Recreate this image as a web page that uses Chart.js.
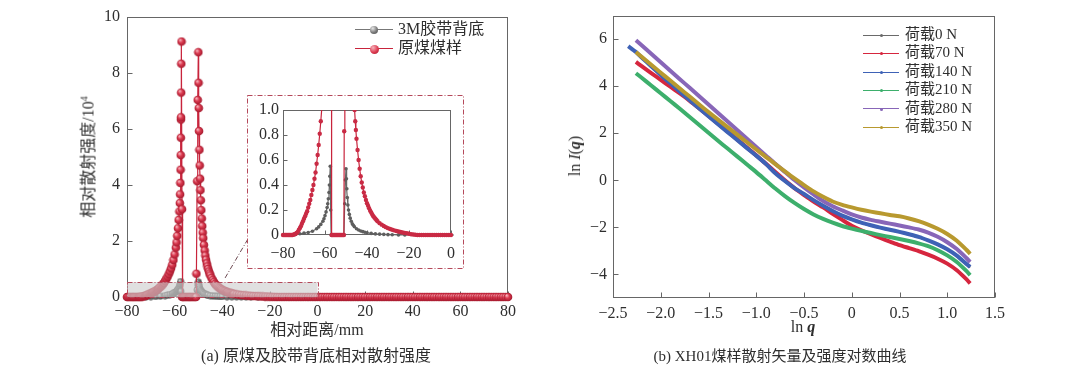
<!DOCTYPE html>
<html><head><meta charset="utf-8">
<script src="https://cdn.jsdelivr.net/npm/chart.js@4.4.1/dist/chart.umd.min.js"></script>
<style>
html,body{margin:0;padding:0;background:#fff}
body{width:1080px;height:375px;position:relative;overflow:hidden;font-family:'Liberation Serif','Noto Sans CJK SC',serif;color:#2e2e2e}
canvas{position:absolute}
.t{position:absolute;white-space:nowrap;transform:translate(-50%,-50%);line-height:1}
.ry{transform:translate(-50%,-50%) rotate(-90deg)}
.lgline{position:absolute;height:0}
.lgdot{position:absolute;border-radius:50%}
.lgtxt{position:absolute;white-space:nowrap;line-height:1}
</style></head>
<body>
<canvas id="cA" width="540" height="330" style="left:0;top:0"></canvas>
<canvas id="cB" width="217" height="174" style="left:247px;top:95px;z-index:2"></canvas>
<canvas id="cC" width="540" height="330" style="left:540px;top:0"></canvas>

<div class="t ry" style="left:88px;top:157px;font-size:16px">相对散射强度/10<sup style="font-size:10px;vertical-align:6px">4</sup></div>
<div class="t" style="left:317px;top:330px;font-size:16px">相对距离/mm</div>
<div class="t" style="left:316px;top:356px;font-size:16px">(a) 原煤及胶带背底相对散射强度</div>
<div class="t ry" style="left:575px;top:156px;font-size:16px">ln <i>I</i>(<b><i>q</i></b>)</div>
<div class="t" style="left:803px;top:327px;font-size:16px">ln <b><i>q</i></b></div>
<div class="t" style="left:780px;top:356px;font-size:15px">(b) XH01煤样散射矢量及强度对数曲线</div>
<div id="legA"></div><div id="legC"></div>

<script>
// ---------------- data: panel (a) ----------------
const seriesA = ['3M胶带背底', '原煤煤样'];
// 原煤煤样: [相对距离 mm, 相对散射强度 /10^4]
const coalPts = [
[-80,0],[-79.5,0],[-79,0],[-78.5,0],[-78,0],[-77.5,0],[-77,0],[-76.5,0],[-76,0],[-75.5,0],
[-75,0.003],[-74.5,0.006],[-74,0.01],[-73.5,0.016],[-73,0.025],[-72.5,0.04],[-72,0.055],[-71.5,0.07],
[-71,0.09],[-70.5,0.11],[-70,0.13],[-69.5,0.15],[-69,0.17],[-68.5,0.19],[-68,0.22],[-67.5,0.25],
[-67,0.28],[-66.5,0.32],[-66,0.36],[-65.5,0.40],[-65,0.45],[-64.5,0.50],[-64,0.57],[-63.5,0.64],
[-63,0.72],[-62.5,0.81],[-62,0.91],[-61.5,1.02],[-61,1.15],[-60.5,1.32],[-60,1.52],[-59.5,1.76],
[-59.2,1.95],[-58.9,2.18],[-58.6,2.45],[-58.3,2.75],[-58,3.05],[-57.8,3.35],[-57.7,3.66],[-57.6,4.07],
[-57.5,4.54],[-57.45,5.06],[-57.4,5.68],[-57.35,6.33],[-57.3,6.41],[-57.25,7.29],[-57.2,8.32],[-57.1,9.11],
[-56.9,3.13],[-56.8,0],[-56.5,0],[-56,0],[-55.5,0],[-55,0],[-54.5,0],[-54,0],[-53.5,0],[-53,0],[-52.5,0],
[-52,0],[-51.5,0],[-51,0],[-50.85,0.83],[-50.55,4.13],[-50.3,7.03],[-50.05,8.73],[-49.95,7.64],[-49.85,6.74],
[-49.75,5.92],[-49.6,5.25],[-49.45,4.69],[-49.3,4.22],[-49.15,3.81],[-49,3.45],[-48.8,3.10],[-48.6,2.80],
[-48.4,2.53],[-48.2,2.30],[-48,2.10],[-47.7,1.86],[-47.4,1.66],[-47.1,1.48],[-46.8,1.33],[-46.5,1.20],
[-46.2,1.09],[-45.9,1.00],[-45.6,0.91],[-45.3,0.84],[-45,0.77],[-44.5,0.68],[-44,0.60],[-43.5,0.53],
[-43,0.47],[-42.5,0.42],[-42,0.38],[-41.5,0.34],[-41,0.31],[-40.5,0.28],[-40,0.255],[-39.5,0.235],
[-39,0.215],[-38.5,0.195],[-38,0.18],[-37.5,0.165],[-37,0.15],[-36.5,0.14],[-36,0.13],[-35.5,0.12],
[-35,0.11],[-34,0.095],[-33,0.083],[-32,0.072],[-31,0.063],[-30,0.055],[-29,0.048],[-28,0.042],
[-27,0.037],[-26,0.032],[-25,0.028],[-24,0.024],[-23,0.02],[-22,0.017],[-21,0.014],[-20,0.01],
[-19,0.006],[-18,0.004],[-17,0.002],[-16,0],[-15,0],[-14,0],[-13,0],[-12,0],[-11,0],[-10,0],[-9,0],[-8,0],
[-7,0],[-6,0],[-5,0],[-4,0],[-3,0],[-2,0],[-1,0],[0,0],[1,0],[2,0],[3,0],[4,0],[5,0],[6,0],[7,0],[8,0],
[9,0],[10,0],[11,0],[12,0],[13,0],[14,0],[15,0],[16,0],[17,0],[18,0],[19,0],[20,0],[21,0],[22,0],[23,0],
[24,0],[25,0],[26,0],[27,0],[28,0],[29,0],[30,0],[31,0],[32,0],[33,0],[34,0],[35,0],[36,0],[37,0],[38,0],
[39,0],[40,0],[41,0],[42,0],[43,0],[44,0],[45,0],[46,0],[47,0],[48,0],[49,0],[50,0],[51,0],[52,0],[53,0],
[54,0],[55,0],[56,0],[57,0],[58,0],[59,0],[60,0],[61,0],[62,0],[63,0],[64,0],[65,0],[66,0],[67,0],[68,0],
[69,0],[70,0],[71,0],[72,0],[73,0],[74,0],[75,0],[76,0],[77,0],[78,0],[79,0],[80,0]
];
// 3M胶带背底
const tapePts = [
[-80,0],[-77,0],[-74,0.005],[-72,0.01],[-70,0.015],[-68,0.02],[-66,0.03],[-64,0.05],[-63,0.065],
[-62,0.085],[-61,0.11],[-60.5,0.13],[-60,0.155],[-59.5,0.185],[-59,0.22],[-58.7,0.25],[-58.4,0.29],
[-58.1,0.34],[-57.9,0.40],[-57.7,0.47],[-57.5,0.55],[-57.3,0.20],[-57.1,0],[-56,0],[-55,0],[-54,0],
[-53,0],[-52,0],[-51,0],[-50.6,0.25],[-50.3,0.44],[-50,0.53],[-49.8,0.45],[-49.6,0.37],[-49.4,0.30],
[-49.1,0.24],[-48.8,0.20],[-48.4,0.165],[-48,0.135],[-47.5,0.11],[-47,0.09],[-46.5,0.078],[-46,0.066],
[-45,0.05],[-44,0.04],[-43,0.032],[-42,0.027],[-41,0.022],[-40,0.018],[-38,0.013],[-36,0.009],
[-34,0.007],[-32,0.005],[-30,0.003],[-28,0.002],[-25,0.001],[-22,0],[-16,0],[-10,0],[-4,0],[2,0],
[8,0],[14,0],[20,0],[26,0],[32,0],[38,0],[44,0],[50,0],[56,0],[62,0],[68,0],[74,0],[80,0]
];
// zoomed box in panel (a): x from..to, height
const zoomBox = {x0: -80, x1: 0, h: 0.53};

// ---------------- data: panel (b) ----------------
const seriesB = ['荷载0 N','荷载70 N','荷载140 N','荷载210 N','荷载280 N','荷载350 N'];
const lnQ = [-2.34,-2.26,-2.2,-2.1,-2.0,-1.9,-1.8,-1.7,-1.6,-1.5,-1.4,-1.3,-1.2,-1.1,-1.0,-0.9,-0.8,-0.7,-0.6,-0.5,
             -0.4,-0.3,-0.2,-0.1,0,0.1,0.2,0.3,0.4,0.5,0.6,0.7,0.8,0.9,1.0,1.1,1.2,1.24];
const load0   = [null,5.42,5.2,4.83,4.46,4.10,3.74,3.39,3.04,2.70,2.36,2.03,1.70,1.36,1.03,0.68,0.29,-0.05,-0.35,-0.60,
                 -0.86,-1.10,-1.32,-1.52,-1.68,-1.82,-1.93,-2.03,-2.12,-2.21,-2.31,-2.42,-2.57,-2.74,-2.95,-3.22,-3.57,-3.70];
const load70  = [null,5.03,4.85,4.56,4.27,3.98,3.69,3.39,3.07,2.74,2.41,2.08,1.74,1.40,1.06,0.71,0.35,0.0,-0.33,-0.62,
                 -0.90,-1.15,-1.42,-1.68,-1.93,-2.12,-2.29,-2.45,-2.60,-2.75,-2.88,-3.01,-3.16,-3.33,-3.54,-3.82,-4.20,-4.38];
const load140 = [5.70,5.45,5.22,4.85,4.48,4.12,3.76,3.41,3.06,2.72,2.38,2.05,1.72,1.38,1.05,0.70,0.30,-0.03,-0.33,-0.58,
                 -0.84,-1.08,-1.30,-1.50,-1.66,-1.80,-1.91,-2.01,-2.10,-2.19,-2.29,-2.40,-2.55,-2.72,-2.93,-3.20,-3.55,-3.68];
const load210 = [null,4.55,4.36,4.03,3.70,3.37,3.04,2.70,2.36,2.02,1.68,1.35,1.02,0.68,0.35,0.0,-0.35,-0.67,-0.96,-1.22,
                 -1.45,-1.64,-1.80,-1.94,-2.05,-2.15,-2.24,-2.33,-2.41,-2.49,-2.58,-2.68,-2.80,-2.97,-3.19,-3.47,-3.85,-4.03];
const load280 = [null,5.95,5.74,5.38,5.02,4.66,4.30,3.94,3.58,3.22,2.86,2.50,2.14,1.78,1.42,1.06,0.70,0.36,0.02,-0.30,
                 -0.60,-0.88,-1.10,-1.28,-1.45,-1.58,-1.68,-1.76,-1.84,-1.92,-2.00,-2.09,-2.22,-2.40,-2.63,-2.92,-3.30,-3.47];
const load350 = [null,5.45,5.25,4.91,4.57,4.24,3.90,3.57,3.23,2.90,2.58,2.26,1.94,1.63,1.31,1.00,0.69,0.38,0.08,-0.20,
                 -0.47,-0.70,-0.90,-1.04,-1.15,-1.25,-1.33,-1.40,-1.47,-1.53,-1.62,-1.73,-1.88,-2.06,-2.28,-2.57,-2.95,-3.12];
const lnITicks = [-4,-2,0,2,4,6];

// ---------------- styling ----------------
const colorsB = ['#6a6a6a','#d6263e','#3e62b6','#3daf6c','#8866b8','#b8992f'];
const FONT = "'Liberation Serif','Noto Sans CJK SC',serif";
const TXT = '#2e2e2e';
const AX = '#666';
Chart.defaults.font.family = FONT;
Chart.defaults.color = TXT;
const fmtMinus = s => String(s).replace('-', '\u2212');

function sphere(r, c0, c1, c2) {
  const s = Math.ceil(r * 2) + 1;
  const cv = document.createElement('canvas'); cv.width = cv.height = s;
  const g = cv.getContext('2d'); const c = s / 2;
  const gr = g.createRadialGradient(c - r * 0.35, c - r * 0.4, r * 0.1, c, c, r);
  gr.addColorStop(0, c0); gr.addColorStop(0.45, c1); gr.addColorStop(1, c2);
  g.fillStyle = gr; g.beginPath(); g.arc(c, c, r, 0, Math.PI * 2); g.fill();
  return cv;
}
const redBall = sphere(4.3, '#f6b3bb', '#dc3a50', '#a3192d');
const grayBall = sphere(3.4, '#dedede', '#7c7c7c', '#4a4a4a');

function frameTicks(len) {
  return {
    id: 'frameTicks',
    beforeDatasetsDraw(chart) {
      const {ctx, chartArea: a, scales: {x, y}} = chart;
      ctx.save();
      ctx.strokeStyle = AX; ctx.lineWidth = 1;
      const l = Math.round(a.left) + 0.5, t = Math.round(a.top) + 0.5;
      const r = Math.round(a.right) - 0.5, b = Math.round(a.bottom) - 0.5;
      ctx.strokeRect(l, t, r - l, b - t);
      ctx.beginPath();
      x.ticks.forEach(tk => { const px = Math.round(x.getPixelForValue(tk.value)) + 0.5; ctx.moveTo(px, b); ctx.lineTo(px, b - len); });
      y.ticks.forEach(tk => { const py = Math.round(y.getPixelForValue(tk.value)) + 0.5; ctx.moveTo(l, py); ctx.lineTo(l + len, py); });
      ctx.stroke();
      ctx.restore();
    }
  };
}
const toXY = pts => pts.map(p => ({x: p[0], y: p[1]}));
const tickFont = {family: "'Liberation Serif',serif", size: 16};

// ---------------- chart (a) ----------------
const overlayA = {
  id: 'overlayA',
  afterDatasetsDraw(chart) {
    const {ctx, scales: {x, y}} = chart;
    const x0 = x.getPixelForValue(zoomBox.x0), x1 = x.getPixelForValue(zoomBox.x1);
    const y0 = y.getPixelForValue(0), y1 = y.getPixelForValue(zoomBox.h);
    ctx.save();
    ctx.fillStyle = 'rgba(205,205,205,0.62)';
    ctx.fillRect(x0, y1, x1 - x0, y0 - y1);
    ctx.setLineDash([5, 2, 1, 2]);
    ctx.strokeStyle = '#b5485a'; ctx.lineWidth = 1;
    ctx.strokeRect(Math.round(x0) + 0.5, Math.round(y1) + 0.5, Math.round(x1 - x0), Math.round(y0 - y1));
    ctx.strokeStyle = '#6d4a52';
    ctx.beginPath();
    ctx.moveTo(x.getPixelForValue(-38.8), y.getPixelForValue(0.68));
    ctx.lineTo(x.getPixelForValue(-29), y.getPixelForValue(2.1));
    ctx.stroke();
    ctx.restore();
  }
};

new Chart(document.getElementById('cA'), {
  type: 'scatter',
  data: { datasets: [
    { label: seriesA[1], data: toXY(coalPts), showLine: true, borderColor: '#c8243c', borderWidth: 1.2,
      pointStyle: redBall, pointRadius: 4.3, clip: false },
    { label: seriesA[0], data: toXY(tapePts), showLine: true, borderColor: '#666', borderWidth: 1,
      pointStyle: grayBall, pointRadius: 3.4, clip: false }
  ]},
  options: {
    responsive: false, animation: false, events: [],
    layout: { padding: {left: 87, right: 32, top: 12, bottom: 0} },
    plugins: { legend: {display: false}, tooltip: {enabled: false} },
    scales: {
      x: { type: 'linear', min: -80, max: 80, grid: {display: false, drawTicks: false}, border: {display: false},
           ticks: {stepSize: 20, font: tickFont, color: TXT, padding: 5, maxRotation: 0, callback: v => fmtMinus(v)},
           afterFit: s => { s.height = 33; } },
      y: { min: 0, max: 10, grid: {display: false, drawTicks: false}, border: {display: false},
           ticks: {stepSize: 2, font: tickFont, color: TXT, padding: 7},
           afterFit: s => { s.width = 40; } }
    }
  },
  plugins: [frameTicks(5), overlayA]
});

// ---------------- inset of (a) ----------------
const insetFrame = {
  id: 'insetFrame',
  beforeDraw(chart) {
    const {ctx, width, height} = chart;
    ctx.save(); ctx.fillStyle = '#fff'; ctx.fillRect(0, 0, width, height); ctx.restore();
  },
  afterDraw(chart) {
    const {ctx, width, height} = chart;
    ctx.save(); ctx.setLineDash([5, 2, 1, 2]); ctx.strokeStyle = '#b5485a'; ctx.lineWidth = 1;
    ctx.strokeRect(0.5, 0.5, width - 1, height - 1); ctx.restore();
  }
};
new Chart(document.getElementById('cB'), {
  type: 'scatter',
  data: { datasets: [
    { label: seriesA[1], data: toXY(coalPts.filter(p => p[0] <= 1)), showLine: true, borderColor: '#c8243c', borderWidth: 1.2,
      pointBackgroundColor: '#c92a44', pointBorderWidth: 0, pointRadius: 2.2, clip: {left: 3, top: 0, right: 3, bottom: 3} },
    { label: seriesA[0], data: toXY(tapePts.filter(p => p[0] <= 3)), showLine: true, borderColor: '#666', borderWidth: 1.2,
      pointBackgroundColor: '#5e5e5e', pointBorderWidth: 0, pointRadius: 1.8, clip: {left: 3, top: 0, right: 3, bottom: 3} }
  ]},
  options: {
    responsive: false, animation: false, events: [],
    layout: { padding: {left: 0, right: 11, top: 15, bottom: 0} },
    plugins: { legend: {display: false}, tooltip: {enabled: false} },
    scales: {
      x: { type: 'linear', min: -80, max: 0, grid: {display: false, drawTicks: false}, border: {display: false},
           ticks: {stepSize: 20, font: tickFont, color: TXT, padding: 9, maxRotation: 0, callback: v => fmtMinus(v)},
           afterFit: s => { s.height = 34; } },
      y: { min: 0, max: 1, grid: {display: false, drawTicks: false}, border: {display: false},
           ticks: {stepSize: 0.2, font: tickFont, color: TXT, padding: 4, autoSkip: false,
                   callback: v => v === 0 ? '0' : v.toFixed(1)},
           afterFit: s => { s.width = 36; } }
    }
  },
  plugins: [insetFrame, frameTicks(4)]
});

// ---------------- chart (b) ----------------
const loads = [load0, load70, load140, load210, load280, load350];
const widthsB = [2, 4, 4, 4, 4, 4];
const dsB = loads.map((arr, i) => ({
  label: seriesB[i],
  data: lnQ.map((x, j) => ({x, y: arr[j]})).filter(p => p.y !== null),
  showLine: true, borderColor: colorsB[i], borderWidth: widthsB[i], pointRadius: 0, tension: 0.25,
  order: 6 - i
}));
const tickFontB = {family: "'Liberation Serif',serif", size: 16};
new Chart(document.getElementById('cC'), {
  type: 'scatter',
  data: { datasets: dsB },
  options: {
    responsive: false, animation: false, events: [],
    layout: { padding: {left: 33, right: 85, top: 13, bottom: 0} },
    plugins: { legend: {display: false}, tooltip: {enabled: false} },
    scales: {
      x: { type: 'linear', min: -2.5, max: 1.5, grid: {display: false, drawTicks: false}, border: {display: false},
           ticks: {stepSize: 0.5, font: tickFontB, color: TXT, padding: 6, maxRotation: 0,
                   callback: v => Math.abs(v) < 1e-9 ? '0' : fmtMinus(v.toFixed(1))},
           afterFit: s => { s.height = 32; } },
      y: { min: -5, max: 7, grid: {display: false, drawTicks: false}, border: {display: false},
           afterBuildTicks: s => { s.ticks = lnITicks.map(v => ({value: v})); },
           ticks: {font: tickFontB, color: TXT, padding: 6, callback: v => fmtMinus(v)},
           afterFit: s => { s.width = 40; } }
    }
  },
  plugins: [frameTicks(5)]
});

// ---------------- HTML legends ----------------
function legendRow(host, x0, x1, xt, yc, color, dot, text, size) {
  const ln = document.createElement('div'); ln.className = 'lgline';
  ln.style.cssText = `left:${x0}px;top:${yc - 0.75}px;width:${x1 - x0}px;border-top:1.5px solid ${color}`;
  host.appendChild(ln);
  const d = document.createElement('div'); d.className = 'lgdot';
  const cx = (x0 + x1) / 2;
  d.style.cssText = `left:${cx - dot.r}px;top:${yc - dot.r}px;width:${2 * dot.r}px;height:${2 * dot.r}px;background:${dot.bg}`;
  host.appendChild(d);
  const t = document.createElement('div'); t.className = 'lgtxt';
  t.style.cssText = `left:${xt}px;top:${yc - size / 2 - 1}px;font-size:${size}px`;
  t.textContent = text; host.appendChild(t);
}
const legA = document.getElementById('legA');
legendRow(legA, 355, 393, 398, 30, '#777', {r: 4, bg: 'radial-gradient(circle at 35% 30%, #e6e6e6, #7a7a7a 55%, #4a4a4a)'}, seriesA[0], 16);
legendRow(legA, 355, 393, 398, 49, '#c8243c', {r: 4.5, bg: 'radial-gradient(circle at 35% 30%, #f6b3bb, #dc3a50 55%, #a3192d)'}, seriesA[1], 16);
const legC = document.getElementById('legC');
seriesB.forEach((name, i) => {
  legendRow(legC, 863, 899, 905, 35.5 + i * 18.4, colorsB[i], {r: 1.5, bg: colorsB[i]}, name, 15);
});
</script>
</body></html>
